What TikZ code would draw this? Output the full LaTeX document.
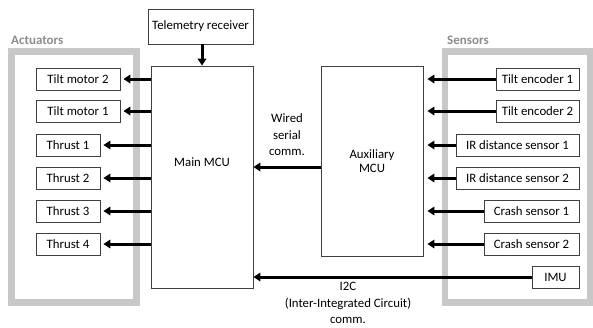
\documentclass[tikz,border=0pt]{standalone}
\usepackage{fontspec}
\setmainfont{Carlito}
\usetikzlibrary{arrows.meta}
\definecolor{framegray}{RGB}{200,200,200}
\definecolor{labelgray}{RGB}{140,140,140}
\begin{document}
\begin{tikzpicture}[x=1pt,y=-1pt,
  font=\fontsize{12.8}{16.5}\selectfont,
  box/.style={draw=black!75,line width=0.8pt,inner sep=0pt,align=center,fill=white},
  frame/.style={draw=framegray,line width=6.5pt,inner sep=0pt},
  grouplabel/.style={text=labelgray,font=\fontsize{13}{16}\selectfont\bfseries,anchor=west,inner sep=0pt},
  arr/.style={line width=3pt,-{Triangle[length=7pt,width=8.5pt]}}
]
\useasboundingbox (0,0) rectangle (593,327);
% group frames
\node[frame,minimum width=124.6pt,minimum height=250.8pt] (actframe) at (74,177.1) {};
\node[frame,minimum width=145pt,minimum height=251pt] (senframe) at (517.5,177) {};
\node[grouplabel] (actlabel) at (11,40) {Actuators};
\node[grouplabel] (senlabel) at (447,40) {Sensors};
% central boxes
\node[box,minimum width=105pt,minimum height=35pt] (tel) at (200.5,26.5) {Telemetry receiver};
\node[box,minimum width=102pt,minimum height=222pt] (main) at (202,177) {};
\node (maintext) at ([yshift=15pt]main.center) {Main MCU};
\node[box,minimum width=102pt,minimum height=190pt] (aux) at (372,161) {Auxiliary\\[-2pt]MCU};
% actuators
\node[box,minimum width=84pt,minimum height=22pt] (tm2) at (78,79) {Tilt motor 2};
\node[box,minimum width=84pt,minimum height=22pt] (tm1) at (78,111) {Tilt motor 1};
\node[box,minimum width=64pt,minimum height=22pt] (th1) at (68,145) {Thrust 1};
\node[box,minimum width=64pt,minimum height=22pt] (th2) at (68,178) {Thrust 2};
\node[box,minimum width=64pt,minimum height=22pt] (th3) at (68,211) {Thrust 3};
\node[box,minimum width=64pt,minimum height=22pt] (th4) at (68,244) {Thrust 4};
% sensors
\node[box,minimum width=83pt,minimum height=22pt] (te1) at (537.5,79) {Tilt encoder 1};
\node[box,minimum width=83pt,minimum height=22pt] (te2) at (537.5,111) {Tilt encoder 2};
\node[box,minimum width=123pt,minimum height=22pt] (ir1) at (517.5,145) {IR distance sensor 1};
\node[box,minimum width=123pt,minimum height=22pt] (ir2) at (517.5,178) {IR distance sensor 2};
\node[box,minimum width=95pt,minimum height=22pt] (cs1) at (531.5,211) {Crash sensor 1};
\node[box,minimum width=95pt,minimum height=22pt] (cs2) at (531.5,244) {Crash sensor 2};
\node[box,minimum width=47pt,minimum height=22pt] (imu) at (555.5,277) {IMU};
% connectors
\draw[arr] (tel.south -| main.north) -- (main.north);
\foreach \a in {tm2,tm1,th1,th2,th3,th4}
  \draw[arr,shorten >=3pt] (main.west |- \a.east) -- (\a.east);
\foreach \s in {te1,te2,ir1,ir2,cs1,cs2}
  \draw[arr,shorten >=4pt] (\s.west) -- (aux.east |- \s.west);
\coordinate (wiredy) at (0,167);
\draw[arr] (aux.west |- wiredy) -- (main.east |- wiredy);
\draw[arr] (imu.west) -- (main.east |- imu.west);
% connector labels
\node[align=center] (wiredlabel) at (287,135) {Wired\\serial\\comm.};
\node[align=center] (i2clabel) at (348,303) {I2C\\(Inter-Integrated Circuit)\\comm.};
\end{tikzpicture}
\end{document}
